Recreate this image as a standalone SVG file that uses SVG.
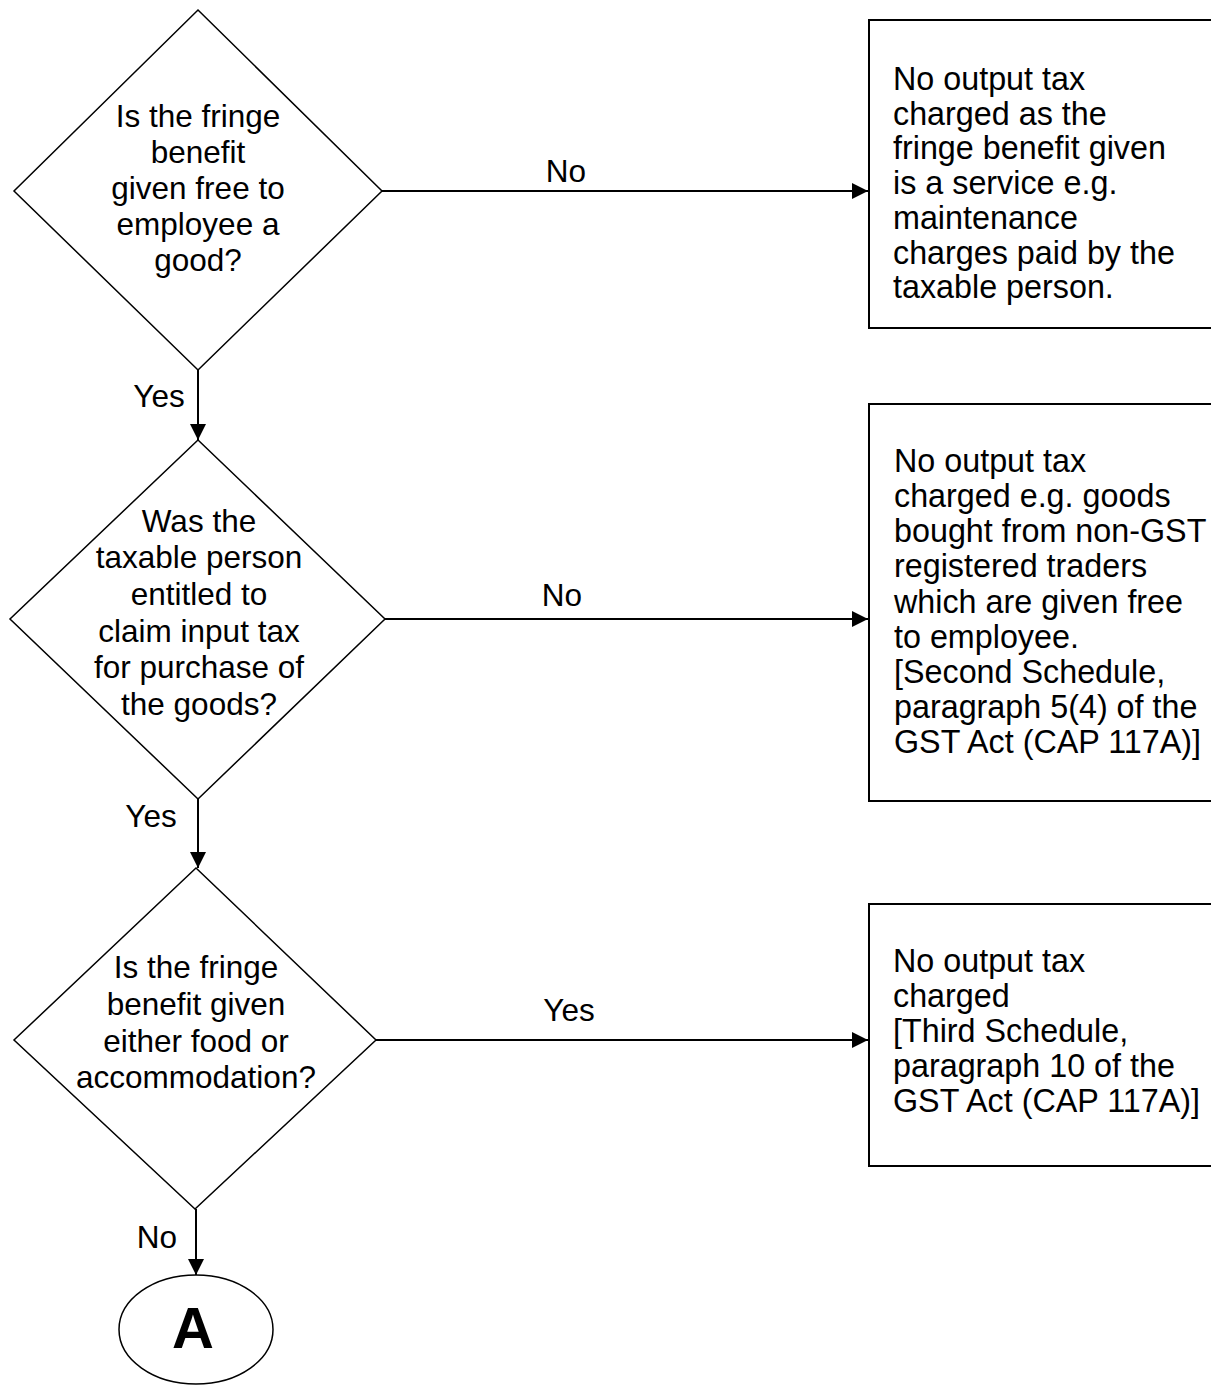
<svg xmlns="http://www.w3.org/2000/svg" width="1211" height="1387" viewBox="0 0 1211 1387">
<style>
  .shape { fill: #fff; stroke: #000; stroke-width: 1.5; }
  .box { fill: #fff; stroke: #000; stroke-width: 2; }
  .t { font-family: "Liberation Sans", Arial, sans-serif; font-size: 31.5px; fill: #000; }
  .bt { font-size: 32.3px; }
  .c { text-anchor: middle; }
  .conn { stroke: #000; stroke-width: 2; fill: none; }
  .bold { font-weight: bold; font-size: 58px; }
</style>
<defs>
  <marker id="arr" markerWidth="16" markerHeight="16" refX="16" refY="8" orient="auto" markerUnits="userSpaceOnUse">
    <path d="M0,0 L16,8 L0,16 Z" fill="#000"/>
  </marker>
</defs>

<g id="connectors">
  <line class="conn" x1="382" y1="191" x2="868" y2="191" marker-end="url(#arr)"/>
  <text class="t c" x="566" y="182">No</text>
  <line class="conn" x1="198" y1="370" x2="198" y2="440" marker-end="url(#arr)"/>
  <text class="t c" x="159" y="407">Yes</text>
  <line class="conn" x1="385" y1="619" x2="868" y2="619" marker-end="url(#arr)"/>
  <text class="t c" x="562" y="606">No</text>
  <line class="conn" x1="198" y1="799" x2="198" y2="868" marker-end="url(#arr)"/>
  <text class="t c" x="151" y="827">Yes</text>
  <line class="conn" x1="376" y1="1040" x2="868" y2="1040" marker-end="url(#arr)"/>
  <text class="t c" x="569" y="1021">Yes</text>
  <line class="conn" x1="196" y1="1209" x2="196" y2="1275" marker-end="url(#arr)"/>
  <text class="t c" x="157" y="1248">No</text>
</g>

<g id="decision1">
  <polygon class="shape" points="198,10 382,191 198,370 14,191"/>
  <text class="t c" x="198" y="127">Is the fringe</text>
  <text class="t c" x="198" y="163">benefit</text>
  <text class="t c" x="198" y="199">given free to</text>
  <text class="t c" x="198" y="235">employee a</text>
  <text class="t c" x="198" y="271">good?</text>
</g>

<g id="result1">
  <rect class="box" x="869" y="20" width="350" height="308"/>
  <text class="t bt" x="893" y="90">No output tax</text>
  <text class="t bt" x="893" y="124.7">charged as the</text>
  <text class="t bt" x="893" y="159.4">fringe benefit given</text>
  <text class="t bt" x="893" y="194.1">is a service e.g.</text>
  <text class="t bt" x="893" y="228.8">maintenance</text>
  <text class="t bt" x="893" y="263.5">charges paid by the</text>
  <text class="t bt" x="893" y="298.2">taxable person.</text>
</g>

<g id="decision2">
  <polygon class="shape" points="198,440 385,619 198,799 10,619"/>
  <text class="t c" x="199" y="531.7">Was the</text>
  <text class="t c" x="199" y="568.4">taxable person</text>
  <text class="t c" x="199" y="605">entitled to</text>
  <text class="t c" x="199" y="641.8">claim input tax</text>
  <text class="t c" x="199" y="678.4">for purchase of</text>
  <text class="t c" x="199" y="715">the goods?</text>
</g>

<g id="result2">
  <rect class="box" x="869" y="404" width="350" height="397"/>
  <text class="t bt" x="894" y="471.7">No output tax</text>
  <text class="t bt" x="894" y="506.9">charged e.g. goods</text>
  <text class="t bt" x="894" y="542.1">bought from non-GST</text>
  <text class="t bt" x="894" y="577.3">registered traders</text>
  <text class="t bt" x="894" y="612.5">which are given free</text>
  <text class="t bt" x="894" y="647.7">to employee.</text>
  <text class="t bt" x="894" y="682.9">[Second Schedule,</text>
  <text class="t bt" x="894" y="718.1">paragraph 5(4) of the</text>
  <text class="t bt" x="894" y="753.3">GST Act (CAP 117A)]</text>
</g>

<g id="decision3">
  <polygon class="shape" points="196,868 376,1040 195,1209 14,1040"/>
  <text class="t c" x="196" y="978.3">Is the fringe</text>
  <text class="t c" x="196" y="1015">benefit given</text>
  <text class="t c" x="196" y="1051.7">either food or</text>
  <text class="t c" x="196" y="1088.3">accommodation?</text>
</g>

<g id="result3">
  <rect class="box" x="869" y="904" width="350" height="262"/>
  <text class="t bt" x="893" y="971.7">No output tax</text>
  <text class="t bt" x="893" y="1006.7">charged</text>
  <text class="t bt" x="893" y="1041.7">[Third Schedule,</text>
  <text class="t bt" x="893" y="1076.7">paragraph 10 of the</text>
  <text class="t bt" x="893" y="1111.7">GST Act (CAP 117A)]</text>
</g>

<g id="connectorA">
  <ellipse class="shape" cx="196" cy="1329.5" rx="77" ry="54.5"/>
  <text class="t c bold" x="193" y="1348">A</text>
</g>
</svg>
